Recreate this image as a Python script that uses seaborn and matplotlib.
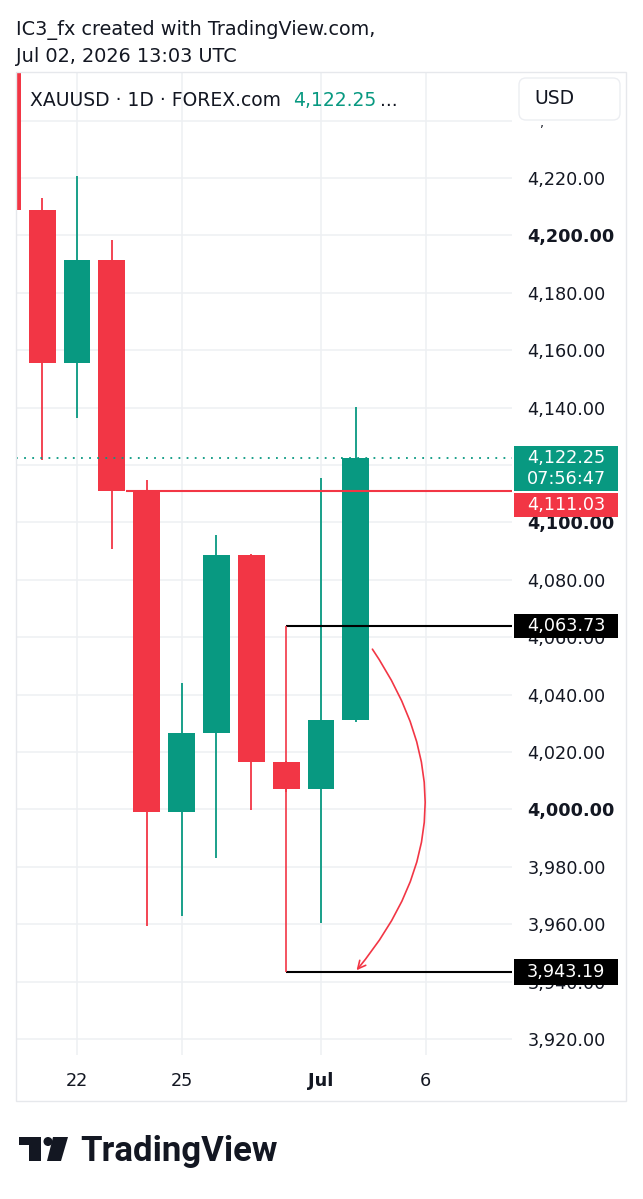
import numpy as np
import pandas as pd
import seaborn as sns
import matplotlib.pyplot as plt
import matplotlib.transforms as mtransforms
from matplotlib.patches import Rectangle, FancyBboxPatch, FancyArrowPatch, Polygon, Circle

sns.set_theme(style='white')
plt.rcParams['font.family'] = ['DejaVu Sans']

# daily XAUUSD candles (Jun 18 -> Jul 2, trading days only)
dates = ['Jun 18', 'Jun 19', 'Jun 22', 'Jun 23', 'Jun 24', 'Jun 25', 'Jun 26',
         'Jun 29', 'Jun 30', 'Jul 1', 'Jul 2']
opens = [4262.0, 4208.9, 4155.4, 4191.4, 4111.03, 3999.0, 4026.5, 4088.6, 4016.4, 4007.1, 4031.2]
highs = [4270.0, 4213.1, 4220.5, 4198.2, 4114.8, 4043.9, 4095.6, 4089.0, 4017.0, 4115.5, 4140.1]
lows = [4203.0, 4121.7, 4136.5, 4090.7, 3959.5, 3963.0, 3983.0, 3999.8, 4006.0, 3960.4, 4030.5]
closes = [4208.9, 4155.4, 4191.4, 4111.03, 3999.0, 4026.5, 4088.6, 4016.4, 4007.1, 4031.2, 4122.25]

price_ticks = [4240, 4220, 4200, 4180, 4160, 4140, 4120, 4100, 4080, 4060, 4040,
               4020, 4000, 3980, 3960, 3940, 3920]
hidden_ticks = [4240]  # sits under the USD box
bold_ticks = [4200, 4100, 4000]
date_ticks = [2, 5, 9, 12]
date_labels = ['22', '25', 'Jul', '6']

last_price = 4122.25
countdown = '07:56:47'
prev_close = 4111.03
proj_top = 4063.73
proj_bottom = 3943.19
proj_start = 8  # Jun 30

RED = '#F23645'
GREEN = '#089981'
INK = '#131722'
GRID = '#eef0f3'

df = pd.DataFrame({'date': dates, 'open': opens, 'high': highs, 'low': lows, 'close': closes})
df['x'] = np.arange(len(df))
df['up'] = df['close'] >= df['open']
df['color'] = np.where(df['up'], GREEN, RED)

W, H = 643, 1199
fig = plt.figure(figsize=(W / 100, H / 100), dpi=100, facecolor='white')


def fx(px):
    return px / W


def fy(py):
    return 1 - py / H


def inch(px, py):
    return (px / 100, (H - py) / 100)


ax = fig.add_axes([fx(16), fy(1055), (512 - 16) / W, (1055 - 72) / H])
ax.set_facecolor('white')

# candles
ax.vlines(df['x'], df['low'], df['high'], colors=df['color'], lw=1.3, zorder=2)
ax.bar(df['x'], (df['close'] - df['open']).abs(), bottom=df[['open', 'close']].min(axis=1),
       width=0.77, color=df['color'], lw=0, zorder=3)

ax.set_xlim(0.25, 14.48)
ax.set_ylim(3914.4, 4256.9)
ppu = (1055 - 72) / (4256.9 - 3914.4)  # pixels per price unit

# axes / grid
ax.set_yticks(price_ticks)
ax.set_yticklabels(['' if t in hidden_ticks else f'{t:,.2f}' for t in price_ticks])
ax.yaxis.tick_right()
ax.set_xticks(date_ticks)
ax.set_xticklabels(date_labels)
ax.tick_params(axis='y', length=0, pad=11, labelsize=12.7, labelcolor=INK)
ax.tick_params(axis='x', length=0, pad=12, labelsize=12.7, labelcolor=INK)
for lab, t in zip(ax.get_yticklabels(), price_ticks):
    lab.set_horizontalalignment('left')
    if t in bold_ticks:
        lab.set_fontweight('bold')
for lab in ax.get_xticklabels():
    if lab.get_text() == 'Jul':
        lab.set_fontweight('bold')
ax.grid(True, color=GRID, lw=1.1)
ax.set_axisbelow(True)
for s in ax.spines.values():
    s.set_visible(False)

# price lines and drawings
ax.axhline(last_price, color=GREEN, ls=(0, (1, 3.5)), lw=1.3, zorder=4)
ax.hlines(prev_close, 3.4, 14.48, color=RED, lw=1.5, zorder=4)
ax.hlines([proj_top, proj_bottom], proj_start, 14.48, color='black', lw=1.5, zorder=5)
ax.vlines(proj_start, proj_bottom, proj_top, color=RED, lw=1.2, zorder=5)
arc = FancyArrowPatch((10.43, 4056.6), (9.97, proj_bottom), connectionstyle='arc3,rad=-0.38',
                      arrowstyle='->', mutation_scale=14, color=RED, lw=1.2, zorder=5)
ax.add_patch(arc)

# right-scale price boxes
blend = mtransforms.blended_transform_factory(ax.transAxes, ax.transData)
bx0, bw, tx = (514 - 16) / 496, 104 / 496, (527 - 16) / 496


def price_box(top_px_off, height_px, color, center, lines):
    top = center + top_px_off / ppu
    ax.add_patch(Rectangle((bx0, top - height_px / ppu), bw, height_px / ppu, transform=blend,
                           facecolor=color, edgecolor='none', clip_on=False, zorder=6))
    for i, s in enumerate(lines):
        ax.text(tx, center - i * 7.3, s, transform=blend, ha='left', va='center', color='white',
                fontsize=12.7, clip_on=False, zorder=7)


price_box(12, 45, GREEN, last_price, [f'{last_price:,.2f}', countdown])
ax.add_patch(Rectangle((bx0, prev_close - 26 / ppu), bw, 24 / ppu, transform=blend,
                       facecolor=RED, edgecolor='none', clip_on=False, zorder=6))
ax.text(tx, prev_close - 14 / ppu, f'{prev_close:,.2f}', transform=blend, ha='left', va='center',
        color='white', fontsize=12.7, clip_on=False, zorder=7)
price_box(12, 24, 'black', proj_top, [f'{proj_top:,.2f}'])
price_box(13, 26, 'black', proj_bottom, [f'{proj_bottom:,.2f}'])

# frame and USD box
fig.patches.append(Rectangle(inch(16, 1101), (626 - 16) / 100, (1101 - 72) / 100,
                             transform=fig.dpi_scale_trans, fill=False, ec='#e6e8ec', lw=1, zorder=0))
fig.patches.append(FancyBboxPatch(inch(519, 120), 1.01, 0.42, boxstyle='round,pad=0,rounding_size=0.07',
                                  transform=fig.dpi_scale_trans, fc='white', ec='#eceef2', lw=1, zorder=10))
fig.text(fx(534), fy(99), 'USD', ha='left', va='center', fontsize=13.5, color=INK, zorder=11)
fig.text(fx(540), fy(124), ',', ha='left', va='center', fontsize=9, color=INK, zorder=11)

# header / legend
fig.text(fx(16), fy(30), 'IC3_fx created with TradingView.com,', ha='left', va='center', fontsize=13.9, color=INK)
fig.text(fx(16), fy(57), 'Jul 02, 2026 13:03 UTC', ha='left', va='center', fontsize=13.9, color=INK)
fig.text(fx(30), fy(100), 'XAUUSD · 1D · FOREX.com', ha='left', va='center', fontsize=13.5, color=INK, zorder=11)
fig.text(fx(293), fy(100), f'{last_price:,.2f}', ha='left', va='center', fontsize=13.5, color=GREEN, zorder=11)
fig.text(fx(380), fy(100), '...', ha='left', va='center', fontsize=13.5, color=INK, zorder=11)

# TradingView logo
logo = [Polygon([inch(19, 1137), inch(41, 1137), inch(41, 1161), inch(29, 1161), inch(29, 1145), inch(19, 1145)]),
        Circle(inch(48, 1141.5), 0.045),
        Polygon([inch(53, 1137), inch(68, 1137), inch(61, 1161), inch(47, 1161)])]
for p in logo:
    p.set_transform(fig.dpi_scale_trans)
    p.set_facecolor(INK)
    p.set_edgecolor('none')
    fig.patches.append(p)
fig.text(fx(80), fy(1161), 'TradingView', ha='left', va='baseline', fontsize=25,
         fontweight='bold', family=['Roboto', 'DejaVu Sans'], color=INK)

fig.savefig('out.png', dpi=100, facecolor='white')
